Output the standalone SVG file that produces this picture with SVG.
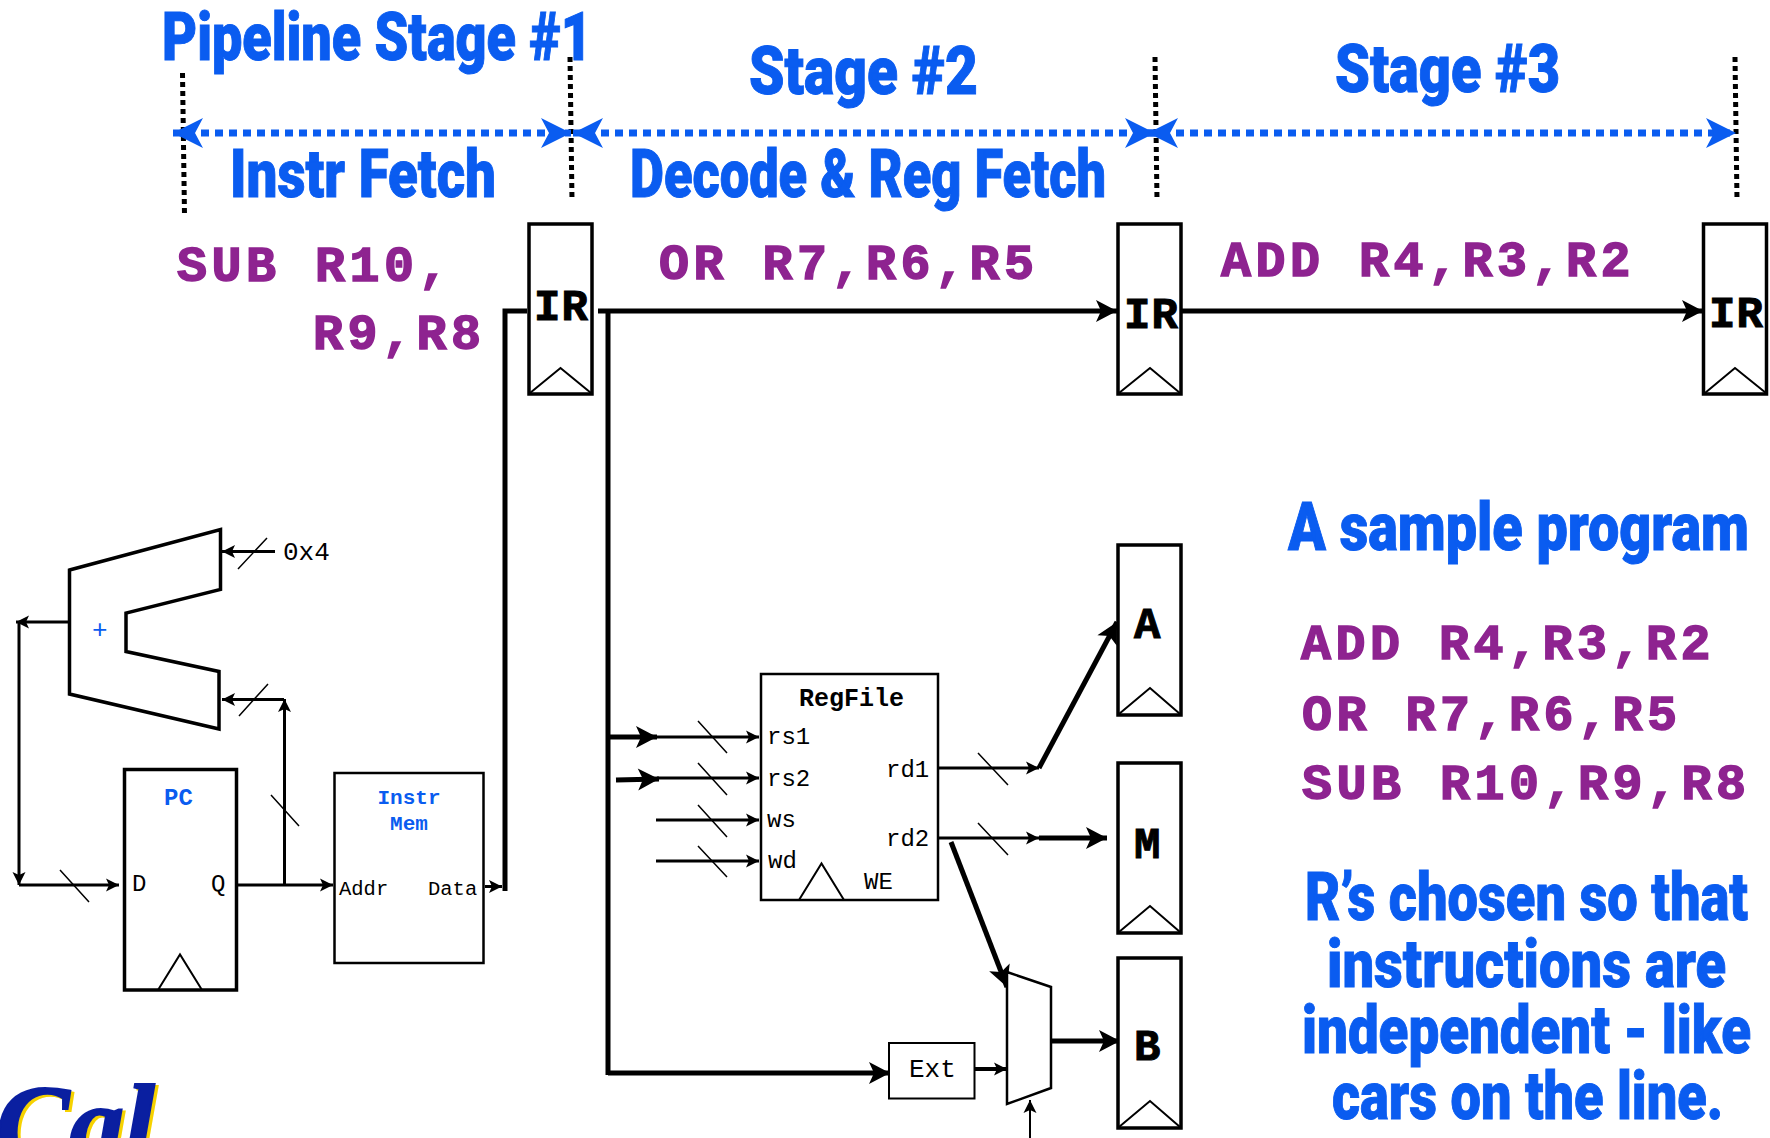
<svg xmlns="http://www.w3.org/2000/svg" width="1770" height="1138" viewBox="0 0 1770 1138">
<style>
.hand{font-family:Roboto,"Liberation Sans",sans-serif;font-weight:900;font-size:66px;fill:#0a5cf0;stroke:#0a5cf0;stroke-width:1;}
.code{font-family:"Liberation Mono",monospace;font-weight:700;font-size:50px;fill:#8e2390;letter-spacing:4.5px;white-space:pre;stroke:#8e2390;stroke-width:1.5;}
.reg{font-family:"Liberation Mono",monospace;font-weight:700;font-size:44px;fill:#000;stroke:#000;stroke-width:1;}
.m{font-family:"Liberation Mono",monospace;font-size:24px;fill:#000;}
.mb{font-family:"Liberation Mono",monospace;font-weight:700;font-size:23px;fill:#000;}
.blue{fill:#0a5cf0;}
.box{fill:#fff;stroke:#000;stroke-width:3.5;}
.thin{fill:#fff;stroke:#000;stroke-width:2.5;}
.tri{fill:none;stroke:#000;stroke-width:2;}
.w{fill:none;stroke:#000;stroke-width:3;}
.t{fill:none;stroke:#000;stroke-width:5;}
.s{fill:none;stroke:#000;stroke-width:1.5;}
.dot{fill:none;stroke:#000;stroke-width:5;stroke-dasharray:5 4;}
.bd{fill:none;stroke:#0a5cf0;stroke-width:7;stroke-dasharray:8 6;}
.logo{font-family:"Liberation Serif",serif;font-style:italic;font-weight:700;font-size:110px;}
</style>
<defs>
<marker id="big" markerUnits="userSpaceOnUse" markerWidth="30" markerHeight="30" refX="24" refY="15" orient="auto-start-reverse" overflow="visible"><path d="M24,15 L3,4 L8,15 L3,26 Z" fill="#000"/></marker>
<marker id="small" markerUnits="userSpaceOnUse" markerWidth="20" markerHeight="20" refX="16" refY="10" orient="auto-start-reverse" overflow="visible"><path d="M16,10 L3,3.5 L6,10 L3,16.500 Z" fill="#000"/></marker>
<marker id="blue" markerUnits="userSpaceOnUse" markerWidth="40" markerHeight="40" refX="35" refY="20" orient="auto-start-reverse" overflow="visible"><path d="M35,20 L5,5 L13,20 L5,35 Z" fill="#0a5cf0"/></marker>
</defs>

<g id="logo">
<text class="logo" x="-1" y="1163" fill="#f6d200" stroke="#f6d200" stroke-width="2">Cal</text>
<text class="logo" x="-4" y="1161" fill="#0a1fa0" stroke="#0a1fa0" stroke-width="2">Cal</text>
</g>

<g id="headings">
<text class="hand" x="162" y="60" textLength="430" lengthAdjust="spacingAndGlyphs">Pipeline Stage #1</text>
<text class="hand" x="749" y="94" textLength="229" lengthAdjust="spacingAndGlyphs">Stage #2</text>
<text class="hand" x="1335" y="92" textLength="225" lengthAdjust="spacingAndGlyphs">Stage #3</text>
<text class="hand" x="230" y="197" textLength="266" lengthAdjust="spacingAndGlyphs">Instr Fetch</text>
<text class="hand" x="630" y="197" textLength="476" lengthAdjust="spacingAndGlyphs">Decode &amp; Reg Fetch</text>
</g>

<g id="stage-instructions">
<text class="code" x="177" y="281">SUB R10,</text>
<text class="code" x="313" y="349">R9,R8</text>
<text class="code" x="659" y="279">OR R7,R6,R5</text>
<text class="code" x="1221" y="276">ADD R4,R3,R2</text>
</g>

<g id="sample-program">
<text class="hand" x="1288" y="550" textLength="461" lengthAdjust="spacingAndGlyphs">A sample program</text>
<text class="code" x="1301" y="659">ADD R4,R3,R2</text>
<text class="code" x="1302" y="730">OR R7,R6,R5</text>
<text class="code" x="1302" y="799">SUB R10,R9,R8</text>
<text class="hand" x="1305" y="920" textLength="443" lengthAdjust="spacingAndGlyphs">R’s chosen so that</text>
<text class="hand" x="1327" y="987" textLength="399" lengthAdjust="spacingAndGlyphs">instructions are</text>
<text class="hand" x="1302" y="1053" textLength="449" lengthAdjust="spacingAndGlyphs">independent - like</text>
<text class="hand" x="1332" y="1119" textLength="391" lengthAdjust="spacingAndGlyphs">cars on the line.</text>
</g>

<g id="connectors">
<path class="dot" d="M182.500,73 L184.500,215"/>
<path class="dot" d="M570,57 L572,200"/>
<path class="dot" d="M1155,57 L1157,200"/>
<path class="dot" d="M1735,57 L1737,200"/>
<path class="bd" d="M173,133 L571,133" marker-start="url(#blue)" marker-end="url(#blue)"/>
<path class="bd" d="M573,133 L1155,133" marker-start="url(#blue)" marker-end="url(#blue)"/>
<path class="bd" d="M1148,133 L1736,133" marker-start="url(#blue)" marker-end="url(#blue)"/>

<path class="t" d="M527,311 L505,311 L505,891"/>
<path class="w" d="M485,886.500 L502,886.500" marker-end="url(#small)"/>
<path class="t" d="M598,311 L1117,311" marker-end="url(#big)"/>
<path class="t" d="M1182,311 L1703,311" marker-end="url(#big)"/>
<path class="t" d="M608,311 L608,1075"/>
<path class="t" d="M608,1073 L890,1073" marker-end="url(#big)"/>

<path class="t" d="M610,737 L657,737" marker-end="url(#big)"/>
<path class="t" d="M616,780 L659,779" marker-end="url(#big)"/>
<path class="w" d="M657,737 L759,737" marker-end="url(#small)"/>
<path class="w" d="M657,778 L759,778" marker-end="url(#small)"/>
<path class="w" d="M656,820 L759,820" marker-end="url(#small)"/>
<path class="w" d="M656,861 L759,861" marker-end="url(#small)"/>
<path class="s" d="M698,721 L727,753 M698,763 L727,795 M698,805 L727,837 M698,846 L727,877"/>

<path class="w" d="M938,768 L1039,768" marker-end="url(#small)"/>
<path class="t" d="M1039,768 L1117,622" marker-end="url(#big)"/>
<path class="w" d="M938,838 L1039,838" marker-end="url(#small)"/>
<path class="t" d="M1039,838 L1107,838" marker-end="url(#big)"/>
<path class="t" d="M951,842 L1007,987" marker-end="url(#big)"/>
<path class="s" d="M978,753 L1008,785 M978,823 L1008,855"/>
<path class="t" d="M1049,1041 L1120,1041" marker-end="url(#big)"/>
<path class="w" style="stroke-width:4" d="M975,1069 L1007,1069" marker-end="url(#small)"/>
<path class="w" style="stroke-width:2" d="M1030,1138 L1030,1100" marker-end="url(#small)"/>

<path class="w" d="M69,622 L16,622" marker-end="url(#small)"/>
<path class="w" d="M19,622 L19,885" marker-end="url(#small)"/>
<path class="w" d="M19,885 L119,885" marker-end="url(#small)"/>
<path class="w" d="M234,885 L333,885" marker-end="url(#small)"/>
<path class="w" d="M284.500,885 L284.500,699" marker-end="url(#small)"/>
<path class="w" d="M284,699.500 L222,699.500" marker-end="url(#small)"/>
<path class="w" d="M275,551.500 L222,551.500" marker-end="url(#small)"/>
<path class="s" d="M60,870 L89,902 M239,716 L268,684 M271,795 L299,826 M238,569 L267,538"/>
</g>

<g id="ir-1"><rect class="box" x="529" y="224" width="63" height="170"/><path class="tri" d="M530,393 L560.500,368 L591,393"/><text class="reg" x="534" y="320" textLength="54">IR</text></g>
<g id="ir-2"><rect class="box" x="1118" y="224" width="63" height="170"/><path class="tri" d="M1119,393 L1150,368 L1180,393"/><text class="reg" x="1124" y="328" textLength="54">IR</text></g>
<g id="ir-3"><rect class="box" x="1703.500" y="224" width="63" height="170"/><path class="tri" d="M1705,393 L1735,368 L1766,393"/><text class="reg" x="1709" y="327" textLength="54">IR</text></g>
<g id="reg-a"><rect class="box" x="1118" y="545" width="63" height="170"/><path class="tri" d="M1119,714 L1150,688 L1180,714"/><text class="reg" x="1134" y="638">A</text></g>
<g id="reg-m"><rect class="box" x="1118" y="763" width="63" height="170"/><path class="tri" d="M1119,932 L1150,906 L1180,932"/><text class="reg" x="1134" y="858">M</text></g>
<g id="reg-b"><rect class="box" x="1118" y="958" width="63" height="170"/><path class="tri" d="M1119,1127 L1150,1101 L1180,1127"/><text class="reg" x="1134" y="1060">B</text></g>

<g id="adder">
<path class="box" style="fill:none" d="M69.500,570 L220.500,529.500 L220.500,589.500 L126,613 L126,651.500 L219,671.500 L219,729 L69.500,694 Z"/>
<text class="m blue" x="92" y="638" style="font-size:26px">+</text>
<text class="m" style="font-size:26px" x="283" y="560">0x4</text>
</g>

<g id="pc">
<rect class="box" x="124.500" y="769.500" width="112" height="220.500"/>
<path class="tri" d="M158,990 L180,954.500 L202,990"/>
<text class="mb blue" style="font-size:24px" x="164" y="805">PC</text>
<text class="m" x="132" y="891">D</text>
<text class="m" x="211" y="891">Q</text>
</g>

<g id="instr-mem">
<rect class="thin" x="334.500" y="773" width="149" height="190"/>
<text class="mb blue" style="font-size:21px" x="409" y="804" text-anchor="middle">Instr</text>
<text class="mb blue" style="font-size:21px" x="409" y="830" text-anchor="middle">Mem</text>
<text class="m" style="font-size:20.500px" x="339" y="895">Addr</text>
<text class="m" style="font-size:20.500px" x="428" y="895">Data</text>
</g>

<g id="regfile">
<rect class="thin" x="761" y="674" width="177" height="226"/>
<path class="tri" d="M799,900 L821.500,863.500 L844,900"/>
<text class="mb" style="font-size:25px" x="799" y="706">RegFile</text>
<text class="m" x="767" y="744">rs1</text>
<text class="m" x="767" y="786">rs2</text>
<text class="m" x="767" y="827">ws</text>
<text class="m" x="768" y="868">wd</text>
<text class="m" x="886" y="777">rd1</text>
<text class="m" x="886" y="846">rd2</text>
<text class="m" x="864" y="889">WE</text>
</g>

<g id="ext">
<rect x="889" y="1043" width="85.500" height="55.500" fill="#fff" stroke="#000" stroke-width="2"/>
<text class="m" style="font-size:26px" x="909" y="1077">Ext</text>
</g>

<g id="mux">
<path fill="#fff" stroke="#000" stroke-width="2.500" d="M1007,972 L1051,987 L1051,1088 L1007,1104 Z"/>
</g>
</svg>
